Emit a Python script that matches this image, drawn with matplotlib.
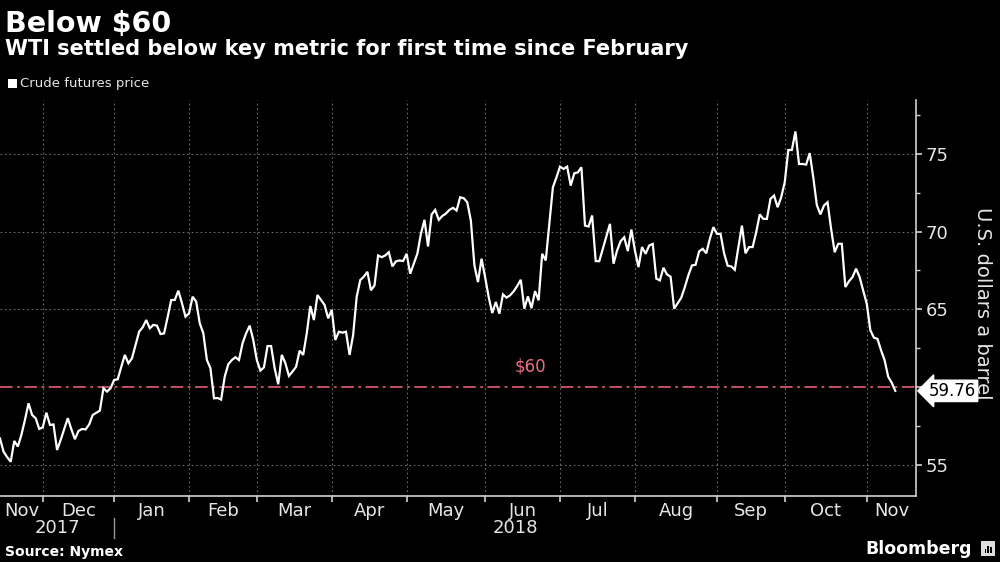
import matplotlib
matplotlib.use('Agg')
from matplotlib import pyplot as plt
from matplotlib import transforms
from matplotlib.patches import Rectangle
import numpy as np

# WTI crude futures price, one value per trading day (Nov 2017 - Nov 2018)
prices = [
    56.70, 55.85, 55.50, 55.20, 56.54, 56.18, 56.93, 57.90, 58.96, 58.21,
    58.00, 57.31, 57.42, 58.36, 57.57, 57.60, 55.96, 56.60, 57.30, 58.00,
    57.30, 56.65, 57.18, 57.31, 57.28, 57.60, 58.21, 58.35, 58.49, 59.93,
    59.71, 59.93, 60.46, 60.50, 61.30, 62.07, 61.53, 61.85, 62.70, 63.56,
    63.84, 64.31, 63.78, 64.00, 63.95, 63.41, 63.45, 64.50, 65.60, 65.60,
    66.20, 65.40, 64.53, 64.74, 65.81, 65.49, 64.10, 63.46, 61.74, 61.21,
    59.28, 59.30, 59.20, 60.67, 61.47, 61.74, 61.92, 61.74, 62.82, 63.46,
    63.95, 63.03, 61.74, 61.06, 61.27, 62.64, 62.64, 61.21, 60.18, 62.07,
    61.54, 60.72, 61.00, 61.30, 62.34, 62.07, 63.46, 65.21, 64.31, 65.92,
    65.60, 65.28, 64.42, 64.96, 63.03, 63.56, 63.50, 63.56, 62.07, 63.35,
    65.81, 66.88, 67.10, 67.41, 66.22, 66.54, 68.46, 68.35, 68.46, 68.67,
    67.76, 68.08, 68.14, 68.10, 68.57, 67.29, 67.93, 68.57, 69.85, 70.75,
    69.04, 71.09, 71.39, 70.75, 71.00, 71.15, 71.39, 71.52, 71.35, 72.20,
    72.14, 71.88, 70.71, 67.82, 66.75, 68.25, 67.07, 65.79, 64.76, 65.47,
    64.72, 65.96, 65.75, 65.90, 66.15, 66.50, 66.90, 65.04, 65.83, 65.07,
    66.17, 65.58, 68.57, 68.14, 70.50, 72.84, 73.48, 74.17, 74.02, 74.17,
    72.95, 73.74, 73.80, 74.13, 70.38, 70.32, 71.03, 68.10, 68.09, 68.89,
    69.70, 70.49, 67.93, 68.78, 69.38, 69.63, 68.74, 70.13, 68.78, 67.71,
    69.00, 68.57, 69.10, 69.20, 66.97, 66.86, 67.67, 67.24, 67.10, 65.04,
    65.40, 65.75, 66.43, 67.20, 67.82, 67.86, 68.72, 68.89, 68.60, 69.53,
    70.28, 69.85, 69.85, 68.60, 67.80, 67.76, 67.54, 68.99, 70.38, 68.60,
    69.00, 69.00, 69.96, 71.10, 70.81, 70.81, 72.10, 72.31, 71.56, 72.20,
    73.16, 75.24, 75.24, 76.43, 74.34, 74.34, 74.30, 75.04, 73.48, 71.70,
    71.10, 71.67, 71.88, 70.17, 68.67, 69.21, 69.21, 66.43, 66.80, 67.07,
    67.61, 67.07, 66.20, 65.36, 63.65, 63.18, 63.10, 62.37, 61.73, 60.67,
    60.28, 59.76,
]

# trading-day index where each month starts
month_starts = [12, 32, 53, 72, 93, 114, 136, 157, 178, 201, 220, 243]
month_labels = ['Nov', 'Dec', 'Jan', 'Feb', 'Mar', 'Apr', 'May', 'Jun',
                'Jul', 'Aug', 'Sep', 'Oct', 'Nov']
years = ['2017', '2018']
year_start = 32
threshold = 60
last_price = prices[-1]

x = np.arange(len(prices))
x_end = 256.8

bg = 'black'
fg = '#e6e6e6'
grid_c = '#6a6a6a'
red = '#d3566c'

fig = plt.figure(figsize=(10, 5.62), dpi=100, facecolor=bg)
ax = fig.add_axes([0.0, 0.1174, 0.916, 0.7046], facecolor=bg)

ax.plot(x, prices, color='white', lw=1.6, zorder=3, solid_joinstyle='miter')
ax.axhline(threshold, color=red, lw=1.3, ls=(0, (7, 2.5, 1.5, 2.5)), zorder=2)
ax.text(148.6, 61.3, '$60', color='#ec7084', fontsize=12, ha='center', va='center')

ax.set_xlim(0, x_end)
ax.set_ylim(53.0, 78.45)

# grid
for m in month_starts:
    ax.axvline(m, color=grid_c, lw=0.8, ls=(0, (1.5, 2.5)), zorder=1)
for v in [55, 65, 70, 75]:
    ax.axhline(v, color=grid_c, lw=0.8, ls=(0, (1.5, 2.5)), zorder=1)

# spines
for s in ['top', 'left']:
    ax.spines[s].set_visible(False)
for s in ['bottom', 'right']:
    ax.spines[s].set_color('#d0d0d0')
    ax.spines[s].set_linewidth(1.2)

# y axis on the right
ax.yaxis.tick_right()
ax.set_yticks([55, 60, 65, 70, 75])
ax.set_yticklabels(['55', '', '65', '70', '75'])
ax.set_yticks([57.5, 62.5, 67.5, 72.5, 77.5], minor=True)
ax.tick_params(axis='y', which='major', colors='#d0d0d0', labelcolor=fg,
               length=4, width=1.2, labelsize=13, pad=3)
ax.tick_params(axis='y', which='minor', colors='#d0d0d0', length=3, width=1)
ax.yaxis.set_label_position('right')
ax.set_ylabel('U.S. dollars a barrel', color=fg, fontsize=14, rotation=-90,
              va='center', ha='center')
ax.yaxis.set_label_coords(1.073, 0.487)

# x axis: month boundaries as ticks, labels centred in each month
ax.set_xticks(month_starts)
ax.set_xticklabels([])
ax.tick_params(axis='x', which='major', colors='#d0d0d0', length=4, width=1.2)
bounds = [0] + month_starts + [x_end]
mids = [(a + b) / 2 for a, b in zip(bounds[:-1], bounds[1:])]
ax.set_xticks(mids, minor=True)
ax.set_xticklabels(month_labels, minor=True)
ax.tick_params(axis='x', which='minor', length=0, labelcolor=fg,
               labelsize=13, pad=4)

trans = transforms.blended_transform_factory(ax.transData, ax.transAxes)
ax.text(year_start / 2, -0.081, years[0], transform=trans, color=fg,
        fontsize=13, ha='center', va='center')
ax.text((year_start + x_end) / 2, -0.081, years[1], transform=trans, color=fg,
        fontsize=13, ha='center', va='center')
ax.plot([year_start, year_start], [-0.056, -0.106], transform=trans,
        color='#9a9a9a', lw=1, clip_on=False)

# last value tag
ytrans = transforms.blended_transform_factory(ax.transAxes, ax.transData)
ax.text(1.014, last_price, '%.2f' % last_price, transform=ytrans,
        fontsize=12, color='black', ha='left', va='center',
        bbox=dict(boxstyle='larrow,pad=0.1', fc='white', ec='white'))

# titles and notes
fig.text(0.005, 0.982, 'Below $60', color='white', fontsize=20.5,
         fontweight='bold', ha='left', va='top')
fig.text(0.005, 0.93, 'WTI settled below key metric for first time since February',
         color='white', fontsize=15, fontweight='bold', ha='left', va='top')
fig.patches.append(Rectangle((0.008, 0.843), 0.009, 0.016, transform=fig.transFigure,
                             facecolor='white', edgecolor='none'))
fig.text(0.02, 0.851, 'Crude futures price', color=fg, fontsize=9.5,
         ha='left', va='center')
fig.text(0.005, 0.018, 'Source: Nymex', color='white', fontsize=10,
         fontweight='bold', ha='left', va='center')
fig.text(0.972, 0.024, 'Bloomberg', color='white', fontsize=12.5,
         fontweight='bold', ha='right', va='center')
fig.patches.append(Rectangle((0.981, 0.011), 0.014, 0.026, transform=fig.transFigure,
                             facecolor='#dddddd', edgecolor='none'))
for i, h in enumerate([0.008, 0.013, 0.01]):
    fig.patches.append(Rectangle((0.9845 + i * 0.0028, 0.016), 0.0016, h,
                                 transform=fig.transFigure,
                                 facecolor='black', edgecolor='none'))

fig.savefig('out.png', dpi=100, facecolor=bg)
